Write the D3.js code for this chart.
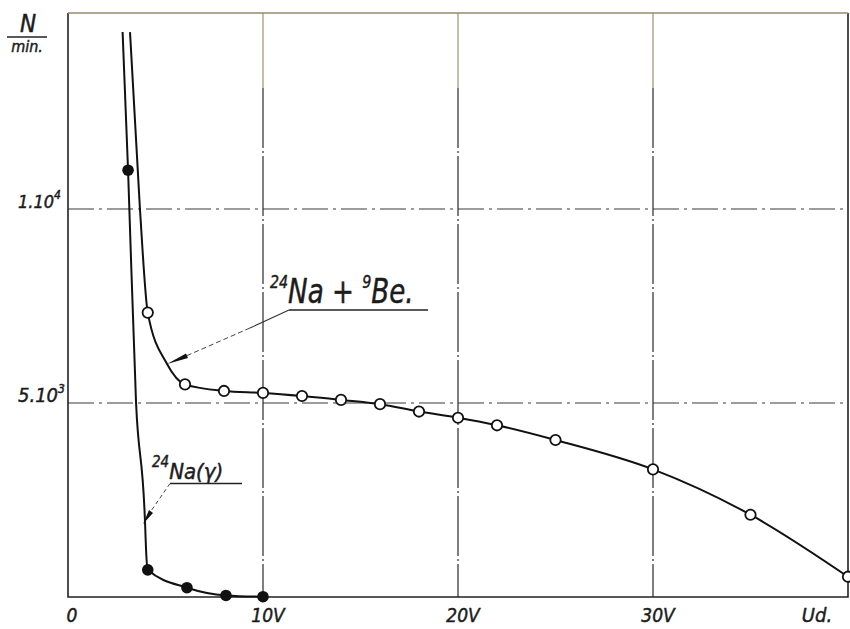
<!DOCTYPE html>
<html><head><meta charset="utf-8">
<script src="https://cdn.jsdelivr.net/npm/d3@7"></script>
<style>
html,body{margin:0;padding:0;background:#fff;}
svg text{font-family:"DejaVu Sans Condensed","DejaVu Sans",sans-serif;font-style:italic;fill:#1c1c1c;stroke:#1c1c1c;stroke-width:0.45px;}
</style></head>
<body><svg id="chart" width="850" height="629"></svg>
<script>
// ---- data ----
const xTicks = [0, 10, 20, 30];
const xTickLabels = ["0", "10V", "20V", "30V"];
const yGridValues = [5000, 10000];

// 24Na + 9Be (open circles)
const beX = [4.09, 6.0, 8.0, 10, 12, 14, 16, 18, 20, 22, 25, 30, 35, 40];
const beY = [7330, 5480, 5310, 5260, 5180, 5080, 4970, 4780, 4620, 4425, 4046, 3290, 2120, 523];
// drawn curve of 24Na + 9Be (includes the steep part above the first point)
const beCurveX = [3.18, 3.69, 4.09, 5.08, 6.0, 8.0, 10, 12, 14, 16, 18, 20, 22, 25, 30, 35, 40];
const beCurveY = [14560, 10000, 7330, 6005, 5480, 5310, 5260, 5180, 5080, 4970, 4780, 4620, 4425, 4046, 3290, 2120, 523];

// 24Na(gamma) (filled circles)
const gX = [3.08, 4.09, 6.1, 8.1, 10];
const gY = [11000, 700, 240, 40, 8];
const gCurveX = [2.8, 3.08, 3.49, 3.95, 4.0, 4.09, 6.1, 8.1, 10];
const gCurveY = [14560, 11000, 5000, 1930, 1250, 700, 240, 40, 8];

// ---- chart ----
const svg = d3.select("#chart");
const x = d3.scaleLinear().domain([0, 40]).range([68, 848]);
const y = d3.scaleLinear().domain([0, 15000]).range([597, 15]);
const frameTop = 13;

// gridlines (dash-dot)
const grid = svg.append("g").attr("stroke-width", 1.2).attr("fill", "none");
grid.selectAll("line.h").data(yGridValues).join("line")
  .attr("x1", x(0)).attr("x2", x(40)).attr("y1", d => y(d)).attr("y2", d => y(d))
  .attr("stroke-dasharray", "26,5,3,5").attr("stroke", "#3a3a3a");
grid.selectAll("line.v").data(xTicks.slice(1)).join("line")
  .attr("x1", d => x(d)).attr("x2", d => x(d)).attr("y1", 88).attr("y2", y(0))
  .attr("stroke", "#2a2a2a").attr("stroke-dasharray", "60,3,2,3");
grid.selectAll("line.vt").data(xTicks.slice(1)).join("line")
  .attr("x1", d => x(d)).attr("x2", d => x(d)).attr("y1", frameTop).attr("y2", 88)
  .attr("stroke", "#a09070");

// frame
svg.append("path")
  .attr("d", `M${x(0)},${frameTop}V${y(0)}H${x(40)}V${frameTop}`)
  .attr("fill", "none").attr("stroke", "#222").attr("stroke-width", 1.6);
svg.append("line").attr("x1", x(0)).attr("x2", x(40)).attr("y1", frameTop).attr("y2", frameTop)
  .attr("stroke", "#9a8a6c").attr("stroke-width", 1.6);

// curves
const line = d3.line().x(d => x(d[0])).y(d => y(d[1])).curve(d3.curveMonotoneX);
svg.append("path").datum(d3.zip(beCurveX, beCurveY)).attr("d", line)
  .attr("fill", "none").attr("stroke", "#111").attr("stroke-width", 2);
svg.append("path").datum(d3.zip(gCurveX, gCurveY)).attr("d", line)
  .attr("fill", "none").attr("stroke", "#111").attr("stroke-width", 2);

// points
svg.append("g").selectAll("circle").data(d3.zip(beX, beY)).join("circle")
  .attr("cx", d => x(d[0])).attr("cy", d => y(d[1])).attr("r", 5.2)
  .attr("fill", "#fff").attr("stroke", "#111").attr("stroke-width", 1.8);
svg.append("g").selectAll("circle").data(d3.zip(gX, gY)).join("circle")
  .attr("cx", d => x(d[0])).attr("cy", d => y(d[1])).attr("r", 5.8)
  .attr("fill", "#111");

// x tick labels
svg.append("g").selectAll("text").data(xTicks).join("text")
  .attr("x", d => x(d) + (d === 0 ? 4 : 5)).attr("y", 622)
  .attr("text-anchor", "middle").attr("font-size", 19)
  .text((d, i) => xTickLabels[i]);
svg.append("text").attr("x", 817).attr("y", 622).attr("text-anchor", "middle")
  .attr("font-size", 20).text("Ud.");

// y tick labels
function yLabel(v, base, exp, fs) {
  const t = svg.append("text").attr("x", 18).attr("y", y(v) - 1).attr("font-size", fs);
  t.append("tspan").text(base);
  t.append("tspan").attr("dy", -9).attr("font-size", 12).text(exp);
}
yLabel(10000, "1.10", "4", 18);
yLabel(5000, "5.10", "3", 20);

// y axis unit
svg.append("text").attr("x", 28).attr("y", 32).attr("text-anchor", "middle").attr("font-size", 24).text("N");
svg.append("line").attr("x1", 7).attr("x2", 47).attr("y1", 37).attr("y2", 37).attr("stroke", "#222").attr("stroke-width", 1.4);
svg.append("text").attr("x", 27).attr("y", 52).attr("text-anchor", "middle").attr("font-size", 16).attr("font-style", "normal").text("min.");

// annotation: 24Na + 9Be
const a1 = svg.append("text").attr("transform", "translate(270,303) scale(0.88,1)").attr("font-size", 33);
a1.append("tspan").attr("font-size", 18).attr("dy", -15).text("24");
a1.append("tspan").attr("dy", 15).text("Na + ");
a1.append("tspan").attr("font-size", 18).attr("dy", -15).text("9");
a1.append("tspan").attr("dy", 15).text("Be.");
svg.append("path").attr("d", "M289,310H428").attr("stroke", "#222").attr("stroke-width", 1.6).attr("fill", "none");
svg.append("path").attr("d", "M289,310L250,328").attr("stroke", "#333").attr("stroke-width", 1.1).attr("fill", "none");
svg.append("path").attr("d", "M250,328L186,356").attr("stroke", "#444").attr("stroke-width", 1).attr("stroke-dasharray", "5,3").attr("fill", "none");
svg.append("path").attr("d", "M186,353.5L188,358L167,364Z").attr("fill", "#111");

// annotation: 24Na(gamma)
const a2 = svg.append("text").attr("x", 152).attr("y", 479).attr("font-size", 22);
a2.append("tspan").attr("font-size", 15).attr("dy", -12).text("24");
a2.append("tspan").attr("dy", 12).text("Na(γ)");
svg.append("path").attr("d", "M170,483.5H242").attr("stroke", "#222").attr("stroke-width", 1.6).attr("fill", "none");
svg.append("path").attr("d", "M170,483.5L151,511").attr("stroke", "#444").attr("stroke-width", 1).attr("stroke-dasharray", "4,3").attr("fill", "none");
svg.append("path").attr("d", "M149,510L153,513L143,524Z").attr("fill", "#111");
</script>
</body></html>
